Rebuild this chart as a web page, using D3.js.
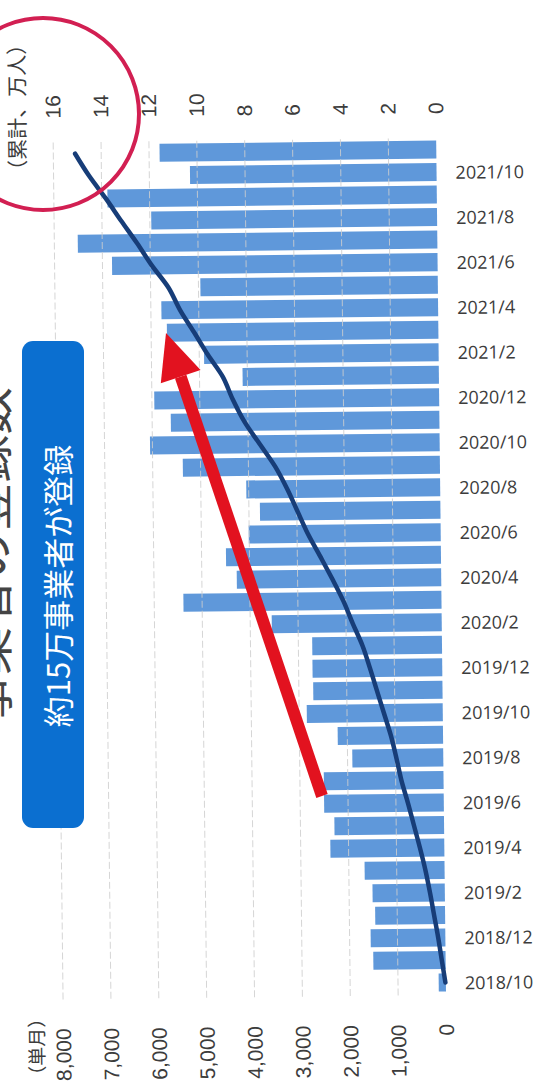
<!DOCTYPE html>
<html>
<head>
<meta charset="utf-8">
<script src="https://cdn.jsdelivr.net/npm/d3@7"></script>
<style>
  body { margin: 0; background: #fff; }
  svg { display: block; }
</style>
</head>
<body>
<svg id="chart" width="541" height="1084"></svg>
<script>
// monthly registrations (単月) and running total (累計, 万人)
const months = [
    "2018/10", "2018/11", "2018/12", "2019/1", "2019/2", "2019/3", "2019/4", "2019/5",
    "2019/6", "2019/7", "2019/8", "2019/9", "2019/10", "2019/11", "2019/12", "2020/1",
    "2020/2", "2020/3", "2020/4", "2020/5", "2020/6", "2020/7", "2020/8", "2020/9",
    "2020/10", "2020/11", "2020/12", "2021/1", "2021/2", "2021/3", "2021/4", "2021/5",
    "2021/6", "2021/7", "2021/8", "2021/9", "2021/10", "2021/11"
];
const monthly = [
    150, 1510, 1560, 1460, 1510, 1670, 2380, 2290,
    2500, 2500, 1900, 2200, 2840, 2700, 2710, 2710,
    3550, 5390, 4270, 4490, 4010, 3770, 4050, 5370,
    6050, 5610, 5950, 4100, 4900, 5670, 5780, 4960,
    6800, 7510, 5970, 6880, 5150, 5780
];
const cumulative = [
    0.02, 0.16, 0.30, 0.46, 0.62, 0.80, 1.02, 1.26,
    1.50, 1.76, 1.96, 2.18, 2.46, 2.74, 3.02, 3.32,
    3.72, 4.10, 4.56, 5.05, 5.55, 5.97, 6.39, 6.88,
    7.51, 8.14, 8.62, 9.02, 9.64, 10.20, 10.78, 11.25,
    11.94, 12.55, 13.20, 13.83, 14.51, 15.09
];
const labelledMonths = [
    "2018/10", "2018/12", "2019/2", "2019/4", "2019/6", "2019/8", "2019/10", "2019/12",
    "2020/2", "2020/4", "2020/6", "2020/8", "2020/10", "2020/12", "2021/2", "2021/4",
    "2021/6", "2021/8", "2021/10"
];
const monthlyTicks = [0, 1000, 2000, 3000, 4000, 5000, 6000, 7000, 8000];
const cumulativeTicks = [0, 2, 4, 6, 8, 10, 12, 14, 16];

const COLORS = {
    BAR: "#5f98da",
    LINE: "#173d78",
    GRID: "#cfcfcf",
    TEXT: "#3c3c3c",
    BOX: "#0b6fd0",
    ARROW: "#e2121f",
    CIRCLE: "#d21f52",
}

var svg = d3.select("#chart");

// the scanned page is a little tilted, so the chart sits in a slightly rotated group
var g = svg.append("g")
    .attr("transform", "rotate(-0.66,270,560)");

var x = d3.scaleLinear()
    .domain([0, 8000])
    .range([441, 58]);

var xc = d3.scaleLinear()
    .domain([0, 16])
    .range([441, 58]);

var y = d3.scaleBand()
    .domain(months.slice().reverse())
    .range([138, 998])
    .padding(0.2);

var rows = months.map((m, i) => ({ month: m, value: monthly[i], total: cumulative[i] }));

// bars
g.append("g")
    .selectAll("rect")
    .data(rows)
    .enter()
    .append("rect")
        .attr("x", d => x(d.value))
        .attr("y", d => y(d.month))
        .attr("width", d => x(0) - x(d.value))
        .attr("height", y.bandwidth())
        .attr("fill", COLORS.BAR);

// dashed gridlines, drawn over the bars like in the scan
g.append("g")
    .selectAll("line")
    .data(monthlyTicks.slice(1))
    .enter()
    .append("line")
        .attr("x1", d => x(d))
        .attr("x2", d => x(d))
        .attr("y1", 140)
        .attr("y2", 1000)
        .attr("stroke", COLORS.GRID)
        .attr("stroke-width", 1)
        .attr("stroke-dasharray", "7,3")
        .attr("opacity", 0.85);

// cumulative line
var line = d3.line()
    .x(d => xc(d.total))
    .y(d => y(d.month) + y.bandwidth() / 2)
    .curve(d3.curveCatmullRom);

g.append("path")
    .datum(rows)
    .attr("d", line)
    .attr("fill", "none")
    .attr("stroke", COLORS.LINE)
    .attr("stroke-width", 4.5)
    .attr("stroke-linecap", "round");

// category labels on the right
g.append("g")
    .selectAll("text")
    .data(labelledMonths)
    .enter()
    .append("text")
        .attr("x", 460)
        .attr("y", d => y(d) + y.bandwidth() / 2)
        .attr("dominant-baseline", "central")
        .attr("font-family", "'Open Sans', sans-serif")
        .attr("font-size", 18)
        .attr("fill", COLORS.TEXT)
        .text(d => d);

// bottom axis (単月), labels turned to read upwards
g.append("g")
    .selectAll("text")
    .data(monthlyTicks)
    .enter()
    .append("text")
        .attr("transform", d => "translate(" + x(d) + ",1026) rotate(-90)")
        .attr("text-anchor", "end")
        .attr("dominant-baseline", "central")
        .attr("font-family", "'Liberation Sans', Arial, sans-serif")
        .attr("font-size", 21)
        .attr("fill", COLORS.TEXT)
        .text(d => d3.format(",")(d));

g.append("text")
    .attr("transform", "translate(30,1082) rotate(-90)")
    .attr("dominant-baseline", "central")
    .attr("font-family", "'Noto Sans CJK JP', sans-serif")
    .attr("font-size", 19)
    .attr("fill", COLORS.TEXT)
    .text("（単月）");

// top axis (累計、万人)
g.append("g")
    .selectAll("text")
    .data(cumulativeTicks)
    .enter()
    .append("text")
        .attr("transform", d => "translate(" + xc(d) + ",116) rotate(-90)")
        .attr("dominant-baseline", "central")
        .attr("font-family", "'Liberation Sans', Arial, sans-serif")
        .attr("font-size", 21)
        .attr("fill", COLORS.TEXT)
        .text(d => d);

g.append("text")
    .attr("transform", "translate(21,178) rotate(-90)")
    .attr("dominant-baseline", "central")
    .attr("font-family", "'Noto Sans CJK JP', sans-serif")
    .attr("font-size", 21)
    .attr("fill", COLORS.TEXT)
    .text("（累計、万人）");

// title, mostly cut off by the left edge of the page as in the scan
svg.append("text")
    .attr("transform", "translate(7,555) rotate(-90)")
    .attr("text-anchor", "middle")
    .attr("font-family", "'Noto Sans CJK JP', sans-serif")
    .attr("font-size", 48)
    .attr("fill", "#444")
    .text("事業者の登録数");

// callout box
svg.append("rect")
    .attr("x", 22)
    .attr("y", 341)
    .attr("width", 62)
    .attr("height", 487)
    .attr("rx", 11)
    .attr("fill", COLORS.BOX);

svg.append("text")
    .attr("transform", "translate(56,586) rotate(-90)")
    .attr("text-anchor", "middle")
    .attr("dominant-baseline", "central")
    .attr("font-family", "'Noto Sans CJK JP', sans-serif")
    .attr("font-size", 31)
    .attr("fill", "#fff")
    .text("約15万事業者が登録");

// red arrow
var tail = [322, 796], tip = [166, 333];
var ang = Math.atan2(tip[1] - tail[1], tip[0] - tail[0]);
var headLen = 46, headHalf = 21;
var base = [tip[0] - headLen * Math.cos(ang), tip[1] - headLen * Math.sin(ang)];
svg.append("line")
    .attr("x1", tail[0])
    .attr("y1", tail[1])
    .attr("x2", base[0])
    .attr("y2", base[1])
    .attr("stroke", COLORS.ARROW)
    .attr("stroke-width", 12);
svg.append("path")
    .attr("d", "M" + tip + "L" + [base[0] + headHalf * Math.sin(ang), base[1] - headHalf * Math.cos(ang)]
        + "L" + [base[0] - headHalf * Math.sin(ang), base[1] + headHalf * Math.cos(ang)] + "Z")
    .attr("fill", COLORS.ARROW);

// red circle round the total
svg.append("circle")
    .attr("cx", 43)
    .attr("cy", 114)
    .attr("r", 96)
    .attr("fill", "none")
    .attr("stroke", COLORS.CIRCLE)
    .attr("stroke-width", 4);
</script>
</body>
</html>
